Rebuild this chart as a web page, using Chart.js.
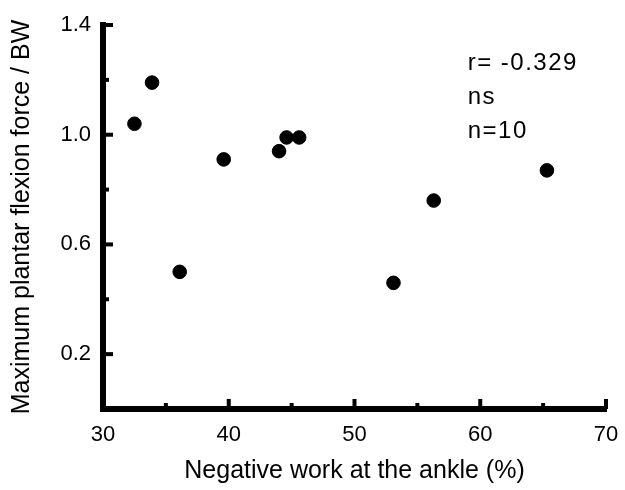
<!DOCTYPE html>
<html>
<head>
<meta charset="utf-8">
<script src="https://cdn.jsdelivr.net/npm/chart.js@4/dist/chart.umd.min.js"></script>
<style>
  html, body { margin: 0; padding: 0; background: #fff; }
  #wrap { width: 625px; height: 490px; position: relative; }
</style>
</head>
<body>
<div id="wrap"><canvas id="plot"></canvas></div>
<script>
// negative work at the ankle (%) vs max plantar flexion force / BW
var negWork   = [32.5, 33.9, 36.1, 39.6, 44.0, 44.6, 45.6, 53.1, 56.3, 65.3];
var plantarBW = [1.04, 1.19, 0.50, 0.91, 0.94, 0.99, 0.99, 0.46, 0.76, 0.87];

var xTickLabels = [30, 40, 50, 60, 70];
var yTickLabels = [0.2, 0.6, 1.0, 1.4];
var xMinorTicks = [35, 45, 55, 65];
var yMinorTicks = [0.4, 0.8, 1.2];

var statLines = ['r= -0.329', 'ns', 'n=10'];

var FONT = "'Liberation Sans', Arial, sans-serif";

// inward tick marks + the stats text
var tickMarks = {
    id: 'tickMarks',
    afterDraw: function(chart) {
        var ctx = chart.ctx;
        var xs = chart.scales.x, ys = chart.scales.y;
        var area = chart.chartArea;
        ctx.save();
        ctx.fillStyle = '#000';
        xTickLabels.forEach(function(v) {
            var px = xs.getPixelForValue(v);
            ctx.fillRect(px - 2, area.bottom - 10, 4, 10);
        });
        xMinorTicks.forEach(function(v) {
            var px = xs.getPixelForValue(v);
            ctx.fillRect(px - 2, area.bottom - 6, 4, 6);
        });
        yTickLabels.forEach(function(v) {
            var py = ys.getPixelForValue(v);
            ctx.fillRect(area.left, py - 2, 10, 4);
        });
        yMinorTicks.forEach(function(v) {
            var py = ys.getPixelForValue(v);
            ctx.fillRect(area.left, py - 2, 6, 4);
        });

        ctx.font = '24px ' + FONT;
        ctx.letterSpacing = '1.5px';
        ctx.textAlign = 'left';
        ctx.textBaseline = 'alphabetic';
        var tx = xs.getPixelForValue(59.0);
        var ty = ys.getPixelForValue(1.235);
        statLines.forEach(function(s, i) {
            ctx.fillText(s, tx, ty + i * 34);
        });
        ctx.restore();
    }
};

new Chart(document.getElementById('plot'), {
    type: 'scatter',
    data: {
        datasets: [{
            data: negWork.map(function(x, i) { return { x: x, y: plantarBW[i] }; }),
            backgroundColor: '#000',
            borderColor: '#000',
            pointRadius: 6.8,
            pointHoverRadius: 6.8
        }]
    },
    options: {
        responsive: true,
        maintainAspectRatio: false,
        animation: false,
        layout: { padding: { top: 25, right: 19, left: 4, bottom: 0 } },
        plugins: { legend: { display: false }, tooltip: { enabled: false } },
        scales: {
            x: {
                type: 'linear',
                min: 30, max: 70,
                afterBuildTicks: function(scale) {
                    scale.ticks = xTickLabels.map(function(v) { return { value: v }; });
                },
                afterFit: function(scale) {
                    scale.height = 81;
                    scale.paddingLeft = 0;
                    scale.paddingRight = 0;
                },
                border: { color: '#000', width: 6 },
                grid: { display: true, drawOnChartArea: false, drawTicks: false },
                ticks: { color: '#000', padding: 13, font: { family: FONT, size: 22 } },
                title: { display: true, text: 'Negative work at the ankle (%)', color: '#000',
                         font: { family: FONT, size: 25 }, padding: { top: 4, bottom: 4 } }
            },
            y: {
                type: 'linear',
                min: 0, max: 1.4,
                afterBuildTicks: function(scale) {
                    scale.ticks = yTickLabels.map(function(v) { return { value: v }; });
                },
                afterFit: function(scale) {
                    scale.width = 99;
                    scale.paddingTop = 0;
                    scale.paddingBottom = 0;
                },
                border: { color: '#000', width: 6 },
                grid: { display: true, drawOnChartArea: false, drawTicks: false },
                ticks: {
                    color: '#000', padding: 12, font: { family: FONT, size: 22 },
                    callback: function(v) { return Number(v).toFixed(1); }
                },
                title: { display: true, text: 'Maximum plantar flexion force / BW', color: '#000',
                         font: { family: FONT, size: 25 }, padding: { top: 3, bottom: 4 } }
            }
        }
    },
    plugins: [tickMarks]
});
</script>
</body>
</html>
